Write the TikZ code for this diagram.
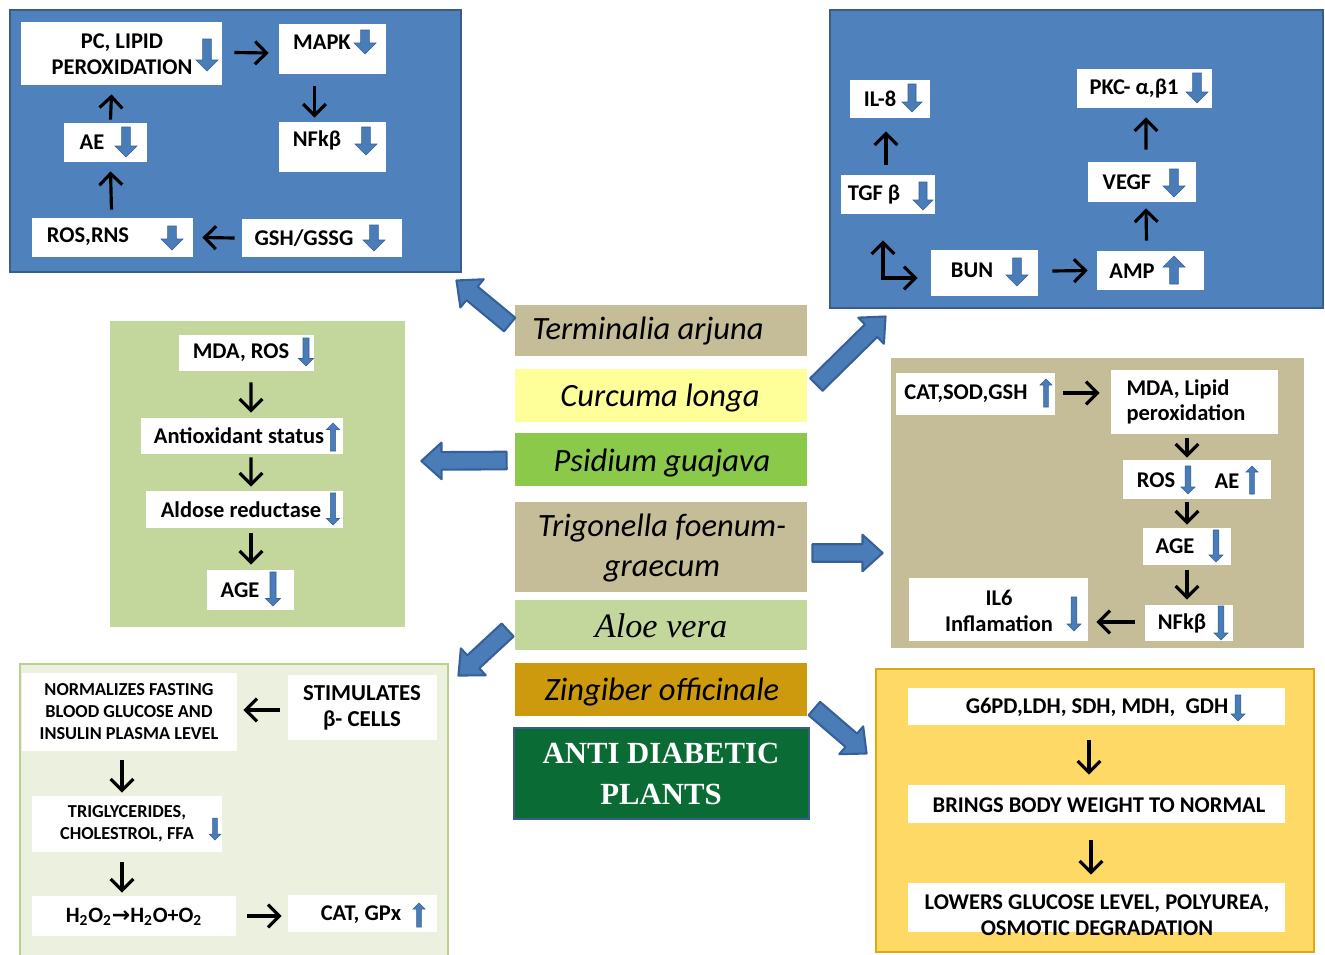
\documentclass[tikz,border=0pt]{standalone}
\usepackage{fontspec}
\setmainfont{Carlito}
\newfontfamily\lserif{Liberation Serif}
\newfontfamily\dejavu{DejaVu Sans}
\usetikzlibrary{arrows.meta,calc,fit}
\definecolor{pblue}{HTML}{4F81BD}
\definecolor{pblueb}{HTML}{385D8A}
\definecolor{arblue}{HTML}{4A7DB8}
\definecolor{arbluedk}{HTML}{36609A}
\definecolor{tanc}{HTML}{C4BD97}
\definecolor{lgreen}{HTML}{C3D69B}
\definecolor{palegr}{HTML}{EBF1DE}
\definecolor{palebd}{HTML}{B9D08F}
\definecolor{goldc}{HTML}{FFD966}
\definecolor{goldbd}{HTML}{DDA812}
\definecolor{cyel}{HTML}{FFFF99}
\definecolor{psg}{HTML}{8BC94A}
\definecolor{zing}{HTML}{CC9A0C}
\definecolor{dgreen}{HTML}{0B6B35}
\newcommand\bigarrow[2]{%
  \draw[bigar] let \p1=(#1), \p2=(#2),
    \n1={atan2(\y2-\y1,\x2-\x1)}, \n2={veclen(\x2-\x1,\y2-\y1)} in
    [shift={(\p1)}, rotate=\n1]
    (0pt,-5pt) -- ({\n2-11.5pt},-5pt) -- ({\n2-11.5pt},-10.4pt) -- ({\n2},0pt)
    -- ({\n2-11.5pt},10.4pt) -- ({\n2-11.5pt},5pt) -- (0pt,5pt) -- cycle;}
\begin{document}
\begin{tikzpicture}[x=0.02cm,y=-0.02cm,
  box/.style={fill=white, draw=none, inner sep=0pt},
  panel/.style={inner sep=0pt},
  bpanel/.style={panel, fill=pblue, draw=pblueb, line width=1.6pt},
  lbl/.style={inner sep=0pt, align=center, font=\bfseries\fontsize{12.8}{14.5}\selectfont},
  lbls/.style={inner sep=0pt, align=center, font=\bfseries\fontsize{10.4}{12.5}\selectfont},
  plant/.style={panel, font=\itshape\fontsize{18.5}{22.7}\selectfont, align=center},
  tip/.style={Straight Barb[length=6.5pt,width=13pt,line width=1.7pt]},
  conn/.style={line width=1.8pt, -{Straight Barb[length=6.5pt,width=13pt]}},
  bigar/.style={fill=arblue, draw=arbluedk, line width=1.2pt, line join=round},
  pics/dn/.style 2 args={code={\fill[arblue, draw=arbluedk, line width=0.3pt]
    ({-0.2*#1},{-#2/2}) -- ({0.2*#1},{-#2/2}) -- ({0.2*#1},{#2/2-0.5*#1}) -- ({0.5*#1},{#2/2-0.5*#1})
    -- (0,{#2/2}) -- ({-0.5*#1},{#2/2-0.5*#1}) -- ({-0.2*#1},{#2/2-0.5*#1}) -- cycle;}},
  pics/up/.style 2 args={code={\fill[arblue, draw=arbluedk, line width=0.3pt]
    ({-0.2*#1},{#2/2}) -- ({0.2*#1},{#2/2}) -- ({0.2*#1},{-#2/2+0.5*#1}) -- ({0.5*#1},{-#2/2+0.5*#1})
    -- (0,{-#2/2}) -- ({-0.5*#1},{-#2/2+0.5*#1}) -- ({-0.2*#1},{-#2/2+0.5*#1}) -- cycle;}}
]
\useasboundingbox (0,0) rectangle (1325,954);
\fill[white] (0,0) rectangle (1325,954);

% ---------- Panel 1 (top left, blue)
\node[bpanel, fit={(10,10) (461,272)}] (p1) {};
\node[box, fit={(21,22) (222,85)}] (pc) {};
\node[lbl] at (122,54) {PC, LIPID\\PEROXIDATION};
\pic at (207,55) {dn={22}{32}};
\node[box, fit={(279,24) (386,74)}] (mapk) {};
\node[lbl] at (322,42) {MAPK};
\pic at (365,42) {dn={22}{24}};
\node[box, fit={(279,122) (386,172)}] (nfk1) {};
\node[lbl] at (317,140) {NFkβ};
\pic at (366,141) {dn={22}{28}};
\node[box, fit={(64,123) (147,162)}] (ae1) {};
\node[lbl] at (92,142) {AE};
\pic at (126,142) {dn={22}{30}};
\node[box, fit={(32,218) (193,257)}] (ros1) {};
\node[lbl] at (88,237) {ROS,RNS};
\pic at (172,238) {dn={22}{24}};
\node[box, fit={(242,219) (402,257)}] (gsh) {};
\node[lbl] at (304,238) {GSH/GSSG};
\pic at (374,238) {dn={22}{26}};
\draw[conn] ($(pc.east)+(12,-1)$) -- ($(mapk.west)+(-10,4)$);
\draw[conn] ($(mapk.south)+(-18,12)$) -- ($(nfk1.north)+(-18,-4)$);
\draw[conn] ($(ae1.north)+(5,-3)$) -- ($(pc.south)+(-10,9)$);
\draw[conn] ($(ros1.north)+(-1,-8)$) -- ($(ae1.south)+(5,9)$);
\draw[conn] ($(gsh.west)+(-7,0)$) -- ($(ros1.east)+(9,0)$);

% ---------- Panel 2 (top right, blue)
\node[bpanel, fit={(830,10) (1323,308)}] (p2) {};
\node[box, fit={(850,80) (930,118)}] (il8) {};
\node[lbl] at (880,99) {IL-8};
\pic at (912,98) {dn={20}{28}};
\node[box, fit={(841,175) (935,214)}] (tgf) {};
\node[lbl] at (874,195) {TGF β};
\pic at (923,196) {dn={20}{28}};
\node[box, fit={(1077,69) (1212,108)}] (pkc) {};
\node[lbl] at (1134,89) {PKC- α,β1};
\pic at (1197,88) {dn={22}{30}};
\node[box, fit={(1088,162) (1196,202)}] (vegf) {};
\node[lbl] at (1127,182) {VEGF};
\pic at (1174,183) {dn={22}{28}};
\node[box, fit={(931,250) (1038,296)}] (bun) {};
\node[lbl] at (972,270) {BUN};
\pic at (1017,272) {dn={22}{28}};
\node[box, fit={(1097,251) (1204,290)}] (amp) {};
\node[lbl] at (1132,271) {AMP};
\pic at (1174,270) {up={22}{28}};
\draw[conn] ($(tgf.north)+(-2,-10)$) -- ($(il8.south)+(-4,13)$);
\draw[line width=1.8pt, {Straight Barb[length=6.5pt,width=13pt]}-{Straight Barb[length=6.5pt,width=13pt]}]
  ($(tgf.south)+(-5,26)$) |- ($(bun.west)+(-13,5)$);
\draw[conn] ($(bun.east)+(14,-2)$) -- ($(amp.west)+(-9,0)$);
\draw[conn] ($(amp.north)+(-4,-10)$) -- ($(vegf.south)+(4,6)$);
\draw[conn] ($(vegf.north)+(4,-12)$) -- ($(pkc.south)+(1.5,9)$);

% ---------- Panel 3 (left, green)
\node[panel, fill=lgreen, fit={(110,321) (405,627)}] (p3) {};
\node[box, fit={(179,335) (314,371)}] (mda) {};
\node[lbl] at (241,353) {MDA, ROS};
\pic at (306,352) {dn={15}{28}};
\node[box, fit={(141,418) (343,454)}] (anti) {};
\node[lbl] at (239,436) {Antioxidant status};
\pic at (333,437) {up={13}{28}};
\node[box, fit={(146,491) (343,528)}] (ald) {};
\node[lbl] at (241,510) {Aldose reductase};
\pic at (333,509) {dn={13}{32}};
\node[box, fit={(207,570) (294,610)}] (age3) {};
\node[lbl] at (240,590) {AGE};
\pic at (273,589) {dn={15}{34}};
\draw[conn] ($(mda.south)+(4.5,11)$) -- ($(anti.north)+(9,-5)$);
\draw[conn] ($(anti.south)+(9,3)$) -- ($(ald.north)+(6.5,-4)$);
\draw[conn] ($(ald.south)+(6.5,5)$) -- ($(age3.north)+(0.5,-5)$);

% ---------- Panel 4 (right, tan)
\node[panel, fill=tanc, fit={(891,358) (1304,648)}] (p4) {};
\node[box, fit={(896,373) (1055,415)}] (cat) {};
\node[lbl] at (966,394) {CAT,SOD,GSH};
\pic at (1046,393) {up={12}{28}};
\node[box, fit={(1111,370) (1278,434)}] (mdal) {};
\node[lbl, align=left] at (1186,402) {MDA, Lipid\\peroxidation};
\node[box, fit={(1123,460) (1271,499)}] (rosae) {};
\node[lbl] at (1156,480) {ROS};
\pic at (1188,480) {dn={14}{28}};
\node[lbl] at (1227,481) {AE};
\pic at (1252,480) {up={12}{28}};
\node[box, fit={(1143,528) (1231,565)}] (age4) {};
\node[lbl] at (1175,546) {AGE};
\pic at (1216,546) {dn={14}{32}};
\node[box, fit={(1145,605) (1233,641)}] (nfk4) {};
\node[lbl] at (1182,623) {NFkβ};
\pic at (1221,623) {dn={14}{34}};
\node[box, fit={(909,578) (1088,641)}] (il6) {};
\node[lbl, font=\bfseries\fontsize{12.8}{15}\selectfont] at (999,611) {IL6\\Inflamation};
\pic at (1074,614) {dn={14}{34}};
\draw[conn] ($(cat.east)+(8,-1)$) -- ($(mdal.west)+(-11,-9)$);
\draw[conn] ($(mdal.south)+(-7.5,4)$) -- ($(rosae.north)+(-10,-2)$);
\draw[conn] ($(rosae.south)+(-10,3)$) -- ($(age4.north)+(0,-3)$);
\draw[conn] ($(age4.south)+(0,5)$) -- ($(nfk4.north)+(-2,-5)$);
\draw[conn] ($(nfk4.west)+(-10,-1)$) -- ($(il6.east)+(8,12.5)$);

% ---------- Panel 5 (bottom left, pale green)
\node[panel, fill=palegr, draw=palebd, line width=1.6pt, fit={(20,664) (448,980)}] (p5) {};
\node[box, fit={(22,673) (237,751)}] (norm) {};
\node[lbls] at (129,712) {NORMALIZES FASTING\\BLOOD GLUCOSE AND\\INSULIN PLASMA LEVEL};
\node[box, fit={(288,675) (437,740)}] (stim) {};
\node[lbl, font=\bfseries\fontsize{13}{15}\selectfont] at (362,708) {STIMULATES\\β- CELLS};
\node[box, fit={(32,796) (222,852)}] (trig) {};
\node[lbls] at (127,824) {TRIGLYCERIDES,\\CHOLESTROL, FFA};
\pic at (215,829) {dn={12}{22}};
\node[box, fit={(32,896) (236,936)}] (h2o2) {};
\node[lbls, font=\bfseries\fontsize{12.5}{14}\selectfont] at (134,917) {H\textsubscript{2}O\textsubscript{2}{\dejavu\bfseries →}H\textsubscript{2}O+O\textsubscript{2}};
\node[box, fit={(288,895) (437,932)}] (catg) {};
\node[lbl] at (361,915) {CAT, GPx};
\pic at (419,915) {up={12}{24}};
\draw[conn] ($(stim.west)+(-8,2.5)$) -- ($(norm.east)+(6,-2)$);
\draw[conn] ($(norm.south)+(-7.5,9)$) -- ($(trig.north)+(-5,-3)$);
\draw[conn] ($(trig.south)+(-5,10)$) -- ($(h2o2.north)+(-12,-3)$);
\draw[conn] ($(h2o2.east)+(11,0)$) -- ($(catg.west)+(-6,2.5)$);

% ---------- Panel 6 (bottom right, gold)
\node[panel, fill=goldc, draw=goldbd, line width=1.6pt, fit={(876,669) (1314,952)}] (p6) {};
\node[box, fit={(908,688) (1285,725)}] (g6) {};
\node[lbl] at (1097,707) {G6PD,LDH, SDH, MDH, \ GDH};
\pic at (1238,708) {dn={14}{26}};
\node[box, fit={(908,785) (1285,823)}] (bring) {};
\node[lbl] at (1099,805) {BRINGS BODY WEIGHT TO NORMAL};
\node[box, fit={(908,883) (1285,932)}] (lower) {};
\node[lbl, font=\bfseries\fontsize{12.8}{14.5}\selectfont] at (1097,915) {LOWERS GLUCOSE LEVEL, POLYUREA,\\OSMOTIC DEGRADATION};
\draw[conn] ($(g6.south)+(-7.5,15)$) -- ($(bring.north)+(-7.5,-10)$);
\draw[conn] ($(bring.south)+(-5.5,17)$) -- ($(lower.north)+(-5.5,-8)$);

% ---------- Central column
\node[plant, fill=tanc, fit={(515,305) (807,356)}] (ta) {};
\node[plant, inner sep=0pt] at (648,331) {Terminalia arjuna};
\node[plant, fill=cyel, fit={(515,369) (807,422)}] (cl) {};
\node[plant, inner sep=0pt] at (660,398) {Curcuma longa};
\node[plant, fill=psg, fit={(515,433) (807,486)}] (pg) {};
\node[plant, inner sep=0pt] at (662,463) {Psidium guajava};
\node[plant, fill=tanc, fit={(515,502) (807,592)}] (tf) {};
\node[plant, inner sep=0pt] at (662,548) {Trigonella foenum-\\graecum};
\node[plant, fill=lgreen, fit={(515,600) (807,650)}] (av) {};
\node[inner sep=0pt, font=\lserif\itshape\fontsize{19.5}{22}\selectfont] at (661,626) {Aloe vera};
\node[plant, fill=zing, fit={(515,663) (807,716)}] (zo) {};
\node[plant, inner sep=0pt] at (662,692) {Zingiber officinale};
\node[panel, fill=dgreen, draw=pblueb, line width=1.4pt, fit={(514,728) (809,819)}] (adp) {};
\node[inner sep=0pt, align=center, text=white, font=\lserif\bfseries\fontsize{17.5}{23}\selectfont] at (661,774) {ANTI DIABETIC\\PLANTS};

% ---------- Big block arrows
\coordinate (taT) at ($(ta.west)+(-5,-6)$);
\coordinate (taH) at ($(p1.south east)+(-6,7)$);
\coordinate (clT) at ($(cl.east)+(9,-11)$);
\coordinate (clH) at ($(p2.south west)+(57,7)$);
\coordinate (pgT) at ($(pg.west)+(-8,1)$);
\coordinate (pgH) at ($(p3.east)+(16,-13)$);
\coordinate (tfT) at ($(tf.east)+(5,6)$);
\coordinate (tfH) at ($(p4.west)+(-8,50)$);
\coordinate (avT) at ($(av.west)+(-7,5)$);
\coordinate (avH) at ($(p5.north east)+(9,13)$);
\coordinate (zoT) at ($(zo.east)+(7,19)$);
\coordinate (zoH) at ($(p6.west)+(-8,-57)$);
\bigarrow{taT}{taH}
\bigarrow{clT}{clH}
\bigarrow{pgT}{pgH}
\bigarrow{tfT}{tfH}
\bigarrow{avT}{avH}
\bigarrow{zoT}{zoH}
\end{tikzpicture}
\end{document}
